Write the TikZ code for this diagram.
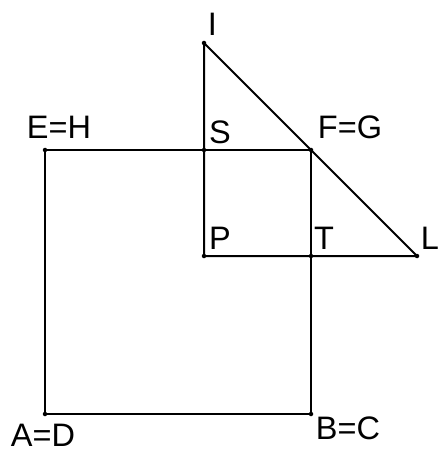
\documentclass[tikz,border=0pt]{standalone}
\usepackage{fontspec}
\setmainfont{Liberation Sans}
\begin{document}
\begin{tikzpicture}[x=1pt,y=-1pt,
  seg/.style={line width=2pt,line cap=round,line join=round},
  pt/.style={circle,fill=black,inner sep=0pt,minimum size=4.5pt},
  lbl/.style={inner sep=0pt,font=\fontsize{32.5}{32.5}\selectfont}]
\useasboundingbox (0,0) rectangle (439,449);
\coordinate (A) at (45,414);
\coordinate (B) at (311,414);
\coordinate (F) at (311,150);
\coordinate (E) at (45,150);
\coordinate (I) at (204,43);
\coordinate (S) at (204,150);
\coordinate (P) at (204,256);
\coordinate (T) at (311,256);
\coordinate (L) at (417,256);
\draw[seg] (A) -- (B) -- (F) -- (E) -- cycle;
\draw[seg] (I) -- (S) -- (P) -- (T) -- (L) -- (F) -- (I);
\foreach \p in {A,B,F,E,I,S,P,T,L} \node[pt] at (\p) {};
\node[lbl] (lI) at (212.5,24.5) {I};
\node[lbl] (lE) at (59,127) {E=H};
\node[lbl] (lS) at (220,132) {S};
\node[lbl] (lF) at (350,127) {F=G};
\node[lbl] (lP) at (220,238) {P};
\node[lbl] (lT) at (324,238) {T};
\node[lbl] (lL) at (430,238) {L};
\node[lbl] (lA) at (43,435) {A=D};
\node[lbl] (lB) at (348,428) {B=C};
\end{tikzpicture}
\end{document}
